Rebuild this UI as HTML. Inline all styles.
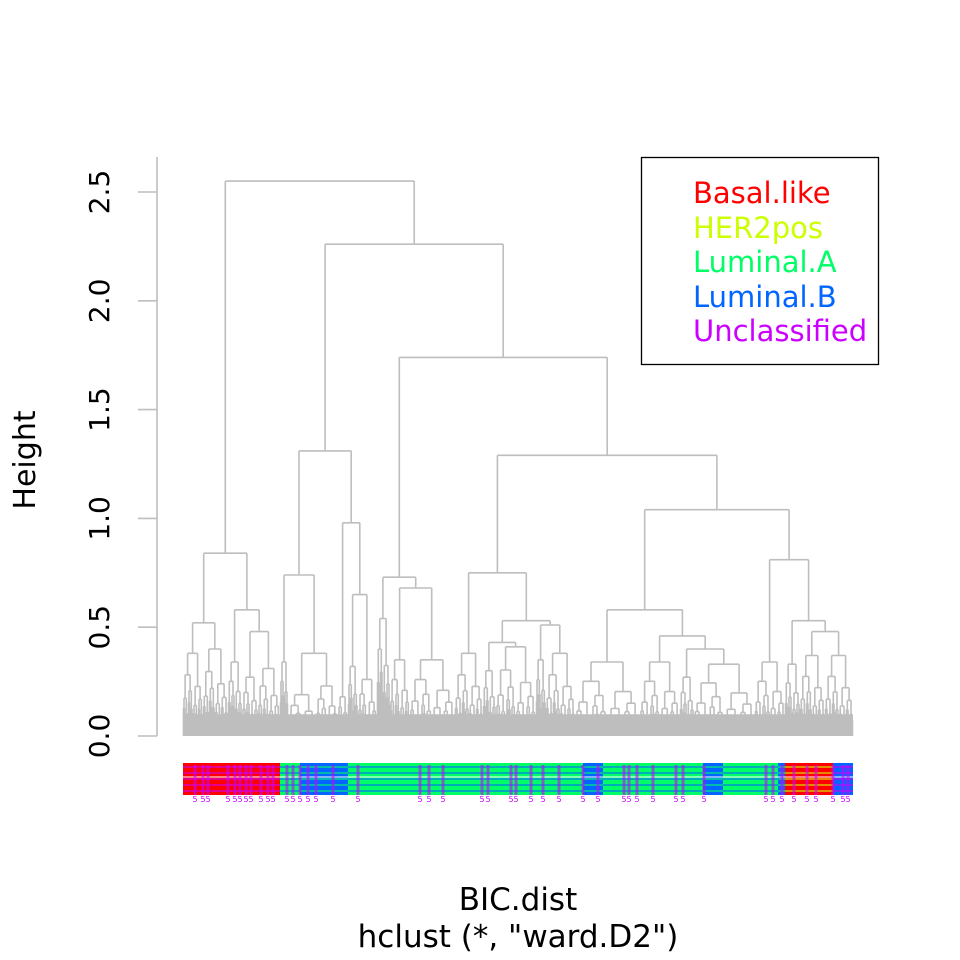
<!DOCTYPE html>
<html><head><meta charset="utf-8"><style>
body{margin:0;background:#fff}
svg{display:block;font-family:"DejaVu Sans","Liberation Sans",sans-serif}
</style></head><body>
<svg id="c" width="960" height="960" viewBox="0 0 960 960">
<rect width="960" height="960" fill="#fff"/>
<g id="tree"></g>
<g id="labels"></g>
<g id="axis"></g>
<text x="35" y="460" font-size="30" text-anchor="middle" transform="rotate(-90 35 460)">Height</text>
<text x="518" y="910" font-size="31" text-anchor="middle">BIC.dist</text>
<text x="518" y="947" font-size="31" text-anchor="middle">hclust (*, "ward.D2")</text>
<g>
<rect x="641.5" y="157.5" width="237" height="207" fill="#fff" stroke="#000" stroke-width="1.3"/>
<text x="693" y="203" font-size="29" fill="#FF0000">Basal.like</text>
<text x="693" y="238" font-size="29" fill="#CCFF00">HER2pos</text>
<text x="693" y="272" font-size="29" fill="#00FF66">Luminal.A</text>
<text x="693" y="307" font-size="29" fill="#0066FF">Luminal.B</text>
<text x="693" y="341" font-size="29" fill="#CC00FF">Unclassified</text>
</g>
</svg>
<script>
// ---- data ----
const yTicks = [0, 0.5, 1.0, 1.5, 2.0, 2.5];
const yTickLabels = ["0.0", "0.5", "1.0", "1.5", "2.0", "2.5"];
const classColors = ["#FF0000", "#CCFF00", "#00FF66", "#0066FF", "#CC00FF"];
function T(n, h) { return {n: n, h: h}; }
function N(h, l, r) { return {h: h, l: l, r: r}; }
const treeData = N(2.55,
  N(0.84,
    N(0.52, T(20, 0.38), T(25, 0.40)),
    N(0.58, T(14, 0.34), N(0.48, T(16, 0.27), T(22, 0.31)))),
  N(2.26,
    N(1.31,
      N(0.74, T(8, 0.34), N(0.38, T(28, 0.19), T(22, 0.23))),
      N(0.98, T(10, 0.18), N(0.65, T(10, 0.32), T(19, 0.26)))),
    N(1.74,
      N(0.73, T(13, 0.54), N(0.68, T(20, 0.35), T(45, 0.35))),
      N(1.29,
        N(0.75, T(28, 0.38),
          N(0.53, N(0.43, T(13, 0.30), T(40, 0.41)), N(0.51, T(10, 0.35), T(29, 0.38)))),
        N(1.04,
          N(0.58, T(65, 0.34), N(0.46, T(40, 0.34), N(0.40, T(14, 0.27), T(61, 0.33)))),
          N(0.81, T(30, 0.34), N(0.53, T(15, 0.33), N(0.48, T(25, 0.37), T(28, 0.37)))))))));
// label colour segments: [startLeaf, endLeaf, primaryClass, secondaryClass]
const labelSegs = [
  [0, 97, 0, 4], [97, 117, 2, 3], [117, 165, 3, 2], [165, 200, 2, 3], [200, 270, 2, 3],
  [270, 400, 2, 3], [400, 420, 3, 2], [420, 520, 2, 3], [520, 540, 3, 2],
  [540, 595, 2, 3], [595, 602, 3, 2], [602, 650, 0, 1], [650, 670, 3, 4]
];
const unclassLeaves = [12, 20, 25, 45, 52, 57, 63, 68, 78, 85, 90, 104, 110, 117, 125, 133, 150, 175,
  237, 246, 260, 299, 305, 328, 333, 348, 360, 376, 400, 415, 441, 446, 454, 470, 493, 500, 521,
  583, 590, 599, 611, 624, 633, 650, 660, 665];

// ---- scales ----
const totalLeaves = 670;
const X0 = 183, X1 = 853;
function xs(i) { return X0 + i * (X1 - X0) / totalLeaves; }
function ys(v) { return 736 - v * 217.6; }
const GRAY = "#bebebe";
const NS = "http://www.w3.org/2000/svg";
const treeG = document.getElementById("tree");
let pathD = "";
function seg(x1, y1, x2, y2) { pathD += "M" + x1.toFixed(1) + " " + y1.toFixed(1) + "L" + x2.toFixed(1) + " " + y2.toFixed(1); }

function bush(i0, n, h, depth) {
  const cx = xs(i0 + n / 2);
  if (n < 2 || h < 0.06 || depth > 6) { seg(cx, ys(h), cx, ys(0)); return cx; }
  const a = Math.floor(n / 2);
  const hl = h * (depth % 2 ? 0.62 : 0.74), hr = h * (depth % 2 ? 0.74 : 0.6);
  const lx = bush(i0, a, hl, depth + 1);
  const rx = bush(i0 + a, n - a, hr, depth + 1);
  seg(lx, ys(hl), lx, ys(h)); seg(lx, ys(h), rx, ys(h)); seg(rx, ys(h), rx, ys(hr));
  return (lx + rx) / 2;
}
let cursor = 0;
function layout(node) {
  if (node.n !== undefined) {
    const x = bush(cursor, node.n, node.h, 0);
    cursor += node.n;
    return x;
  }
  const lx = layout(node.l), rx = layout(node.r);
  const y = ys(node.h);
  seg(lx, ys(node.l.h), lx, y); seg(lx, y, rx, y); seg(rx, y, rx, ys(node.r.h));
  return (lx + rx) / 2;
}
const rootX = layout(treeData);
const band = document.createElementNS(NS, "rect");
band.setAttribute("x", X0); band.setAttribute("y", ys(0.1));
band.setAttribute("width", X1 - X0); band.setAttribute("height", ys(0) - ys(0.1));
band.setAttribute("fill", GRAY);


treeG.appendChild(band);
const tp = document.createElementNS(NS, "path");
tp.setAttribute("d", pathD); tp.setAttribute("stroke", GRAY); tp.setAttribute("stroke-width", "1.6"); tp.setAttribute("fill", "none");


treeG.appendChild(tp);

// ---- labels ----
const labG = document.getElementById("labels");
labelSegs.forEach(function (s) {
  const x = xs(s[0]), w = xs(s[1]) - xs(s[0]);
  const r = document.createElementNS(NS, "rect");
  r.setAttribute("x", x); r.setAttribute("y", 763); r.setAttribute("width", w); r.setAttribute("height", 32);
  r.setAttribute("fill", classColors[s[2]]);
  
  
  labG.appendChild(r);
  for (let y = 766; y < 795; y += 6) {
    const st = document.createElementNS(NS, "rect");
    st.setAttribute("x", x); st.setAttribute("y", y); st.setAttribute("width", w); st.setAttribute("height", 2);
    st.setAttribute("fill", classColors[s[3]]); st.setAttribute("opacity", "0.55");
    
    
    labG.appendChild(st);
  }
  const wh = document.createElementNS(NS, "rect");
  wh.setAttribute("x", x); wh.setAttribute("y", 776); wh.setAttribute("width", w); wh.setAttribute("height", 2);
  wh.setAttribute("fill", "#ffffff"); wh.setAttribute("opacity", "0.5");
  
  
  labG.appendChild(wh);
});
unclassLeaves.forEach(function (i) {
  const x = xs(i);
  const r = document.createElementNS(NS, "rect");
  r.setAttribute("x", x - 1.5); r.setAttribute("y", 765); r.setAttribute("width", 3); r.setAttribute("height", 30);
  r.setAttribute("fill", classColors[4]); r.setAttribute("opacity", "0.6");
  
  
  labG.appendChild(r);
  const t = document.createElementNS(NS, "text");
  t.setAttribute("x", x); t.setAttribute("y", 802); t.setAttribute("font-size", "8");
  t.setAttribute("fill", classColors[4]); t.setAttribute("text-anchor", "middle");
  
  
  t.textContent = "5";
  labG.appendChild(t);
});

// ---- axis ----
const axG = document.getElementById("axis");
const al = document.createElementNS(NS, "line");
al.setAttribute("x1", 157); al.setAttribute("x2", 157); al.setAttribute("y1", 157); al.setAttribute("y2", ys(0));
al.setAttribute("stroke", GRAY); al.setAttribute("stroke-width", "1.6");


axG.appendChild(al);
yTicks.forEach(function (v, k) {
  const y = ys(v);
  const tk = document.createElementNS(NS, "line");
  tk.setAttribute("x1", 138); tk.setAttribute("x2", 157); tk.setAttribute("y1", y); tk.setAttribute("y2", y);
  tk.setAttribute("stroke", GRAY); tk.setAttribute("stroke-width", "1.6");
  
  
  axG.appendChild(tk);
  const t = document.createElementNS(NS, "text");
  t.setAttribute("x", 109); t.setAttribute("y", y); t.setAttribute("font-size", "28");
  t.setAttribute("text-anchor", "middle");
  t.setAttribute("transform", "rotate(-90 109 " + y + ")");
  
  
  t.textContent = yTickLabels[k];
  axG.appendChild(t);
});
</script>
</body></html>
